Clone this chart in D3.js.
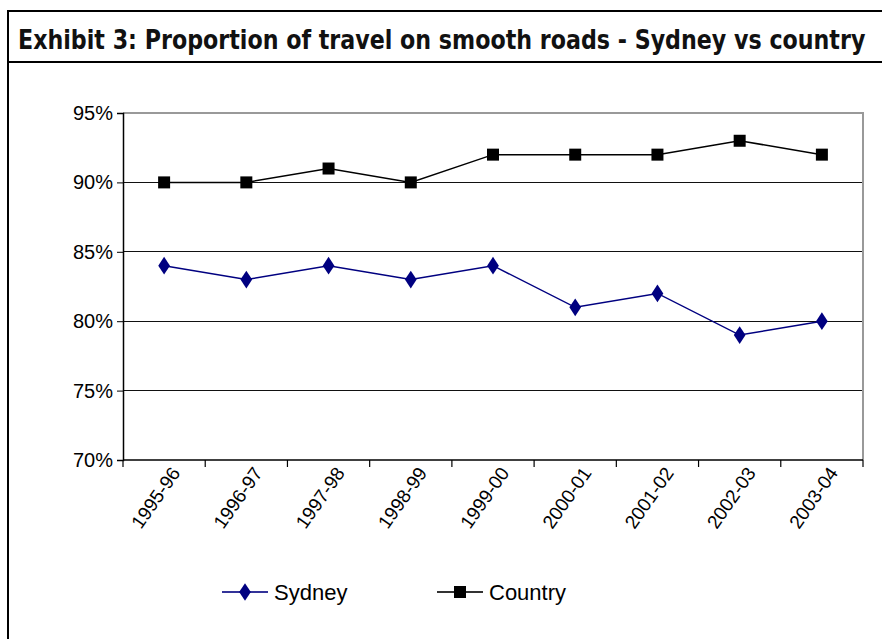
<!DOCTYPE html>
<html>
<head>
<meta charset="utf-8">
<script src="https://cdn.jsdelivr.net/npm/d3@7"></script>
<style>
  html, body { margin: 0; padding: 0; background: #fff; }
  svg { display: block; }
  .tick text { font-family: "Liberation Sans", Arial, sans-serif; fill: #000; }
</style>
</head>
<body>
<svg id="chart" width="882" height="639"></svg>
<script>
// Financial years on the horizontal axis
const years = ["1995-96", "1996-97", "1997-98", "1998-99", "1999-00",
               "2000-01", "2001-02", "2002-03", "2003-04"];
// Share of travel on smooth roads (per cent)
const sydney  = [84, 83, 84, 83, 84, 81, 82, 79, 80];
const country = [90, 90, 91, 90, 92, 92, 92, 93, 92];
// Vertical axis ticks (per cent)
const yTicks = [70, 75, 80, 85, 90, 95];

const titleText = "Exhibit 3: Proportion of travel on smooth roads - Sydney vs country";

const svg = d3.select("#chart");
const W = 882, H = 639;

svg.append("rect").attr("width", W).attr("height", H).attr("fill", "#fff");

// Outer frame and title strip
svg.append("rect")
  .attr("x", 8).attr("y", 11).attr("width", W + 20).attr("height", H + 20)
  .attr("fill", "none").attr("stroke", "#000").attr("stroke-width", 2);
svg.append("line")
  .attr("x1", 8).attr("x2", W + 10).attr("y1", 62).attr("y2", 62)
  .attr("stroke", "#000").attr("stroke-width", 2);

// Title: a tall, narrow bold face squeezed to the strip width
const titleG = svg.append("g").attr("transform", "translate(18,49)");
const title = titleG.append("text")
  .attr("font-family", "'DejaVu Sans', sans-serif")
  .attr("font-weight", "bold")
  .attr("font-size", 26)
  .attr("fill", "#111")
  .text(titleText);
const tw = title.node().getComputedTextLength();
title.attr("transform", `scale(${848 / tw},1)`);

// Plot area
const plot = { left: 123, right: 863, top: 113, bottom: 460 };

const x = d3.scaleBand().domain(years).range([plot.left, plot.right]);
const y = d3.scaleLinear().domain([70, 95]).range([plot.bottom, plot.top]);

// Gridlines
svg.append("g")
  .selectAll("line")
  .data(yTicks.filter(t => t > 70 && t < 95))
  .join("line")
  .attr("x1", plot.left).attr("x2", plot.right)
  .attr("y1", d => y(d)).attr("y2", d => y(d))
  .attr("stroke", "#111").attr("stroke-width", 1).attr("shape-rendering", "crispEdges");

// Plot area border (top and right)
svg.append("path")
  .attr("d", `M${plot.left},${plot.top}H${plot.right}V${plot.bottom}`)
  .attr("fill", "none").attr("stroke", "#999").attr("stroke-width", 2)
  .attr("shape-rendering", "crispEdges");

// Y axis
const yAxis = d3.axisLeft(y).tickValues(yTicks).tickSize(6).tickPadding(4)
  .tickFormat(d => d + "%");
const gy = svg.append("g").attr("transform", `translate(${plot.left},0)`).call(yAxis);
gy.select(".domain").attr("stroke", "#000").attr("stroke-width", 1.5);
gy.selectAll(".tick line").attr("stroke", "#000");
gy.selectAll(".tick text").attr("font-size", 20);

// X axis: ticks at category boundaries
const boundaries = d3.range(years.length + 1).map(i => plot.left + i * x.step());
const gx = svg.append("g");
gx.append("line")
  .attr("x1", plot.left).attr("x2", plot.right)
  .attr("y1", plot.bottom).attr("y2", plot.bottom)
  .attr("stroke", "#000").attr("stroke-width", 1.5);
gx.selectAll("line.tk").data(boundaries).join("line").attr("class", "tk")
  .attr("x1", d => d).attr("x2", d => d)
  .attr("y1", plot.bottom).attr("y2", plot.bottom + 7)
  .attr("stroke", "#000").attr("stroke-width", 1.2);
gx.selectAll("text").data(years).join("text")
  .attr("transform", d => `translate(${x(d) + x.bandwidth() / 2 + 17},${plot.bottom + 13}) rotate(-55)`)
  .attr("text-anchor", "end")
  .attr("font-family", "'Liberation Sans', Arial, sans-serif")
  .attr("font-size", 19)
  .attr("fill", "#000")
  .text(d => d);

const cx = d => x(d) + x.bandwidth() / 2;

// Series lines
const line = d3.line().x((d, i) => cx(years[i])).y(d => y(d));
svg.append("path").datum(country).attr("d", line)
  .attr("fill", "none").attr("stroke", "#000").attr("stroke-width", 1.5);
svg.append("path").datum(sydney).attr("d", line)
  .attr("fill", "none").attr("stroke", "#000080").attr("stroke-width", 1.5);

// Markers
const sq = d3.symbol().type(d3.symbolSquare).size(144);
const dm = d3.symbol().type(d3.symbolDiamond).size(90);
svg.append("g").selectAll("path").data(country).join("path")
  .attr("d", sq)
  .attr("transform", (d, i) => `translate(${cx(years[i])},${y(d)})`)
  .attr("fill", "#000");
svg.append("g").selectAll("path").data(sydney).join("path")
  .attr("d", dm)
  .attr("transform", (d, i) => `translate(${cx(years[i])},${y(d)}) scale(1.15,1)`)
  .attr("fill", "#000080");

// Legend
const legend = [
  { name: "Sydney", color: "#000080", stroke: "#333399", sym: dm, sx: 1.15, x: 222 },
  { name: "Country", color: "#000", stroke: "#333", sym: sq, sx: 1, x: 437 }
];
const lg = svg.append("g").selectAll("g").data(legend).join("g")
  .attr("transform", d => `translate(${d.x},592)`);
lg.append("line").attr("x1", 0).attr("x2", 46).attr("y1", 0).attr("y2", 0)
  .attr("stroke", d => d.stroke).attr("stroke-width", 2);
lg.append("path").attr("d", d => d.sym())
  .attr("transform", d => `translate(23,0) scale(${d.sx},1)`).attr("fill", d => d.color);
lg.append("text").attr("x", 52).attr("y", 8)
  .attr("font-family", "'Liberation Sans', Arial, sans-serif")
  .attr("font-size", 22).attr("fill", "#000")
  .text(d => d.name);
</script>
</body>
</html>
